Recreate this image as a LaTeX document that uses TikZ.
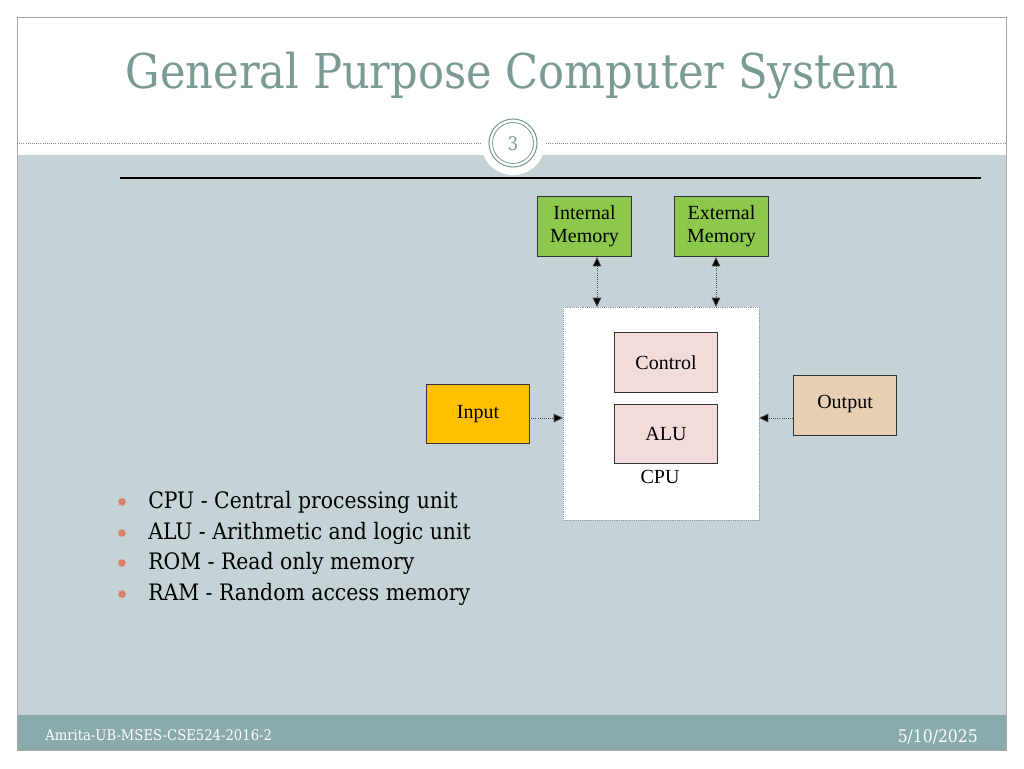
\documentclass[tikz,border=0pt]{standalone}
\usepackage{fontspec}
\setmainfont{DejaVu Serif}
\newfontfamily\tms{Liberation Serif}
\newfontfamily\geo{DejaVu Serif Condensed}
\usetikzlibrary{arrows.meta}
\definecolor{bodyc}{HTML}{C5D3D6}
\definecolor{footc}{HTML}{8AABAB}
\definecolor{titc}{HTML}{7A9A96}
\definecolor{greenb}{HTML}{8CC84B}
\definecolor{pinkb}{HTML}{F2DCDB}
\definecolor{orb}{HTML}{FFC000}
\definecolor{tanb}{HTML}{E8CFB3}
\definecolor{bulc}{HTML}{D9826A}
\tikzset{mytip/.tip={Triangle[length=7pt,width=6.5pt,fill=black]}}
\begin{document}
\begin{tikzpicture}[x=0.75pt,y=-0.75pt,
  box/.style={draw=black!80,line width=0.8pt,minimum width=77.25pt,minimum height=45pt,align=center,inner sep=0pt,font=\tms\fontsize{15}{17}\selectfont,anchor=north west},
  con/.style={densely dotted,black!70,line width=0.6pt,-mytip},
  bul/.style={font=\geo\fontsize{17}{20}\selectfont,anchor=west,inner sep=0pt}]
\useasboundingbox (0,0) rectangle (1024,768);
\fill[white] (0,0) rectangle (1024,768);
\fill[bodyc] (17,155) rectangle (1006,715);
\fill[footc] (17,715) rectangle (1006,750);
\draw[black!35,line width=0.6pt] (17,17) rectangle (1006,750);
\draw[black!45,densely dotted,line width=0.6pt] (17,143) -- (1006,143);
\node[font=\geo\fontsize{36}{40}\selectfont,text=titc] (title) at (512,76) {General Purpose Computer System};
\fill[white] (513,143) circle (32);
\draw[titc,line width=0.8pt] (513,143) circle (24);
\draw[titc,line width=0.6pt] (513,143) circle (20.5);
\node[text=titc,font=\geo\fontsize{14}{16}\selectfont] (pg) at (513,144) {3};
\draw[black,line width=2pt] (120,178) -- (981,178);
% diagram
\node[box,fill=greenb,minimum width=70.5pt] (im) at (537,196) {Internal\\Memory};
\node[box,fill=greenb,minimum width=70.5pt] (em) at (674,196) {External\\Memory};
\node[draw=black!40,densely dotted,fill=white,minimum width=147pt,minimum height=159.75pt,anchor=north west,inner sep=0pt] (cpu) at (563,307) {};
\node[box,fill=pinkb] (ctl) at (614,332) {Control};
\node[box,fill=pinkb,minimum height=44.25pt] (alu) at (614,404) {\raisebox{-4pt}{ALU}};
\node[font=\tms\fontsize{15}{17}\selectfont] (cpul) at (660,477) {CPU};
\node[box,fill=orb,minimum height=44.25pt] (inp) at (426,384) {\raisebox{2pt}{Input}};
\node[box,fill=tanb] (out) at (793,375) {\raisebox{5pt}{Output}};
\coordinate (a1) at (597,307); \coordinate (a2) at (716,307);
\draw[con,mytip-mytip] (597,257) -- (a1);
\draw[con,mytip-mytip] (716,257) -- (a2);
\coordinate (il) at (563,418); \coordinate (ol) at (759,418);
\draw[con] (529,418) -- (il);
\draw[con] (793,418) -- (ol);
% bullets
\foreach \y/\t [count=\i] in {502/{CPU - Central processing unit},533/{ALU - Arithmetic and logic unit},563/{ROM - Read only memory},594/{RAM - Random access memory}}{
  \fill[bulc] (122,\y) circle (3.8);
  \node[bul] (b\i) at (148,\y) {\t};
}
\node[text=white,font=\geo\fontsize{11}{13}\selectfont,anchor=west,inner sep=0pt] (f1) at (45,735) {Amrita-UB-MSES-CSE524-2016-2};
\node[text=white,font=\geo\fontsize{13}{15}\selectfont,anchor=east,inner sep=0pt] (f2) at (978,737) {5/10/2025};
\end{tikzpicture}
\end{document}
